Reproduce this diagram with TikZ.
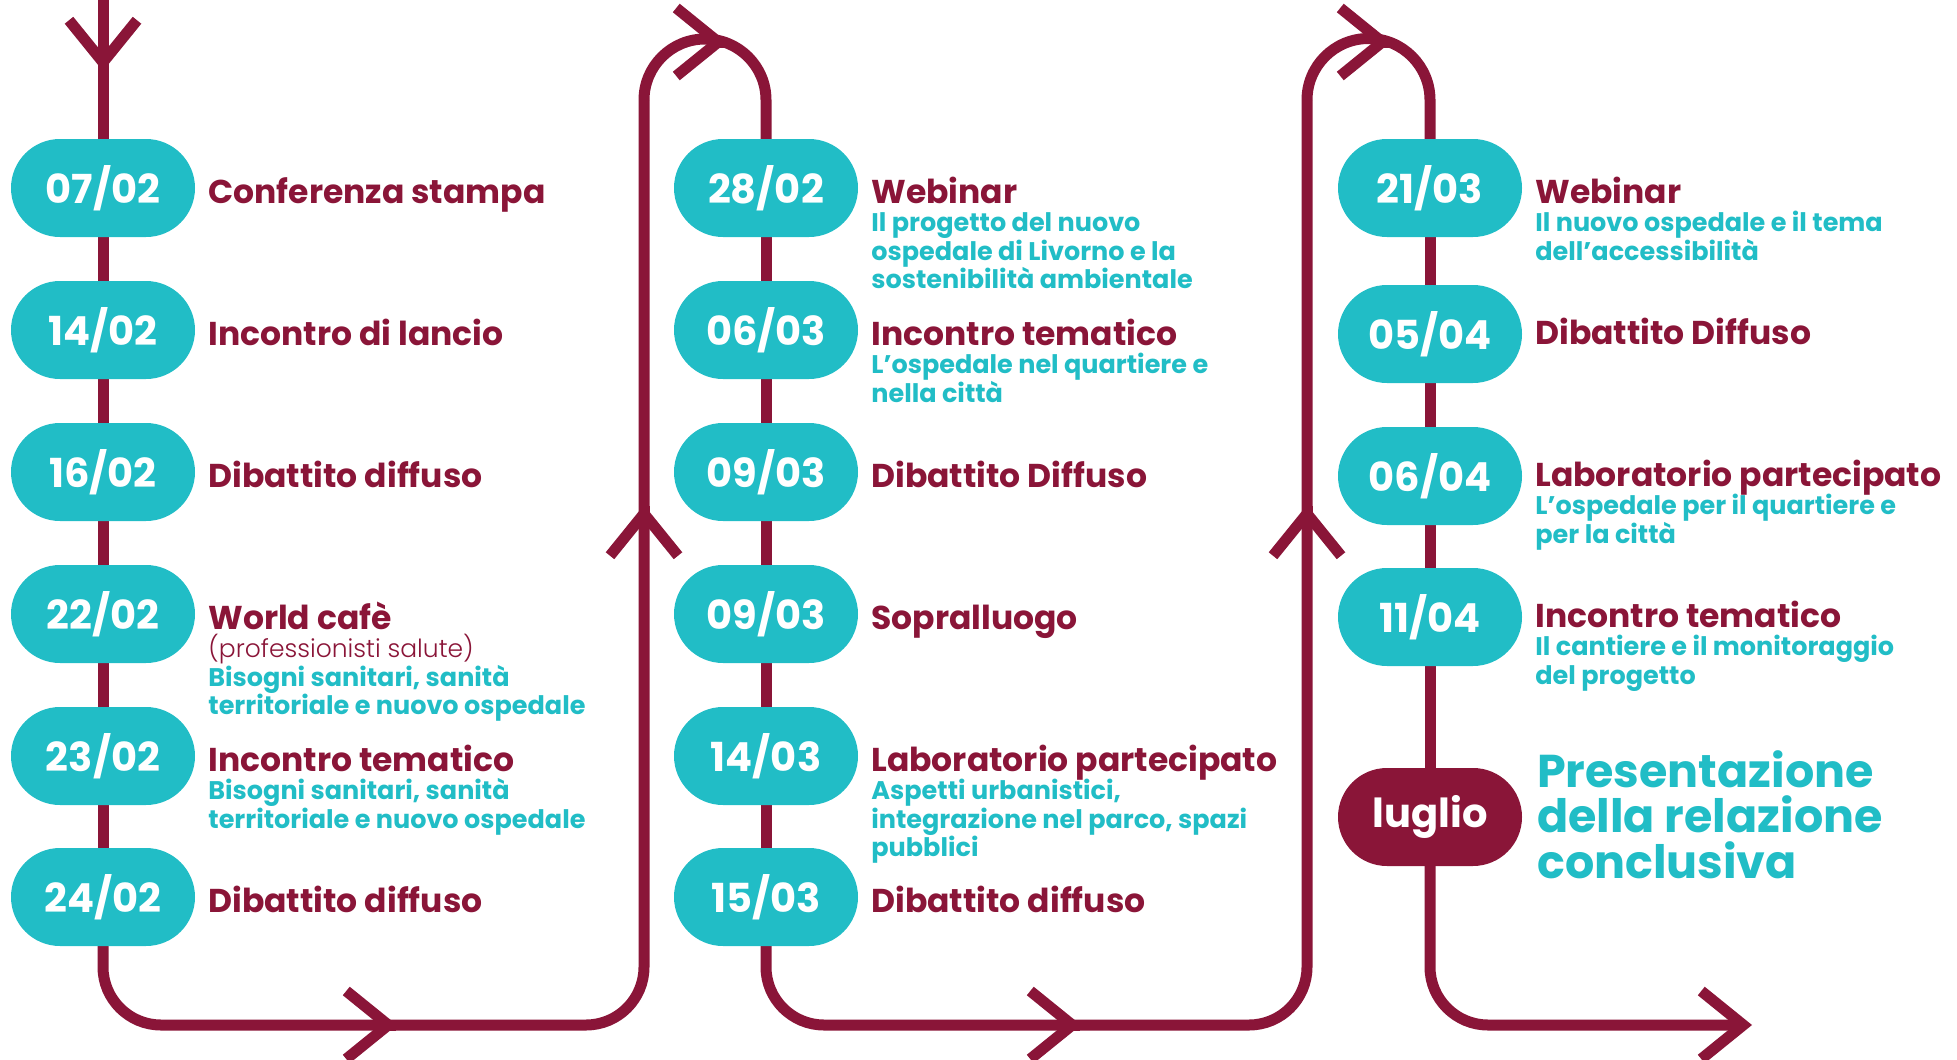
\documentclass[tikz,border=0pt]{standalone}
\usepackage{fontspec}
\setmainfont{Poppins}
\newfontfamily\poplight{Poppins Light}
\usepackage{tikz}
\usetikzlibrary{arrows.meta, positioning, backgrounds}
\definecolor{wine}{HTML}{8A1538}
\definecolor{aqua}{HTML}{21BDC6}
\newcommand{\datefont}{\fontsize{40}{42}\selectfont\bfseries}
\newcommand{\ttlfont}{\fontsize{33}{36}\selectfont\bfseries}
\newcommand{\notefont}{\fontsize{25}{28.5}\selectfont\poplight}
\newcommand{\subfont}{\fontsize{25.5}{28.5}\selectfont\bfseries}
\newcommand{\bigfont}{\fontsize{46}{45.5}\selectfont\bfseries}

\begin{document}
\begin{tikzpicture}[x=1pt, y=-1pt,
  flow/.style={draw=wine, line width=11pt},
  barb/.style={flow, -{Straight Barb[length=42pt, width=68pt]}},
  datepill/.style={fill=aqua, text=white, rounded corners=49pt, minimum width=184pt, minimum height=98pt, inner sep=0pt, font=\datefont},
  lastpill/.style={datepill, fill=wine},
  ttl/.style={text=wine, font=\ttlfont, inner sep=0pt},
  note/.style={text=wine, font=\notefont, inner sep=0pt, anchor=base west},
  sub/.style={text=aqua, font=\subfont, inner sep=0pt, align=left, anchor=base west},
  finale/.style={text=aqua, font=\bigfont, inner sep=0pt, align=left, anchor=base west}]
\useasboundingbox (0,0) rectangle (1957,1060);

% february
\node[datepill] (d1) at (103,188) {07/02};
\node[datepill] (d2) at (103,330) {14/02};
\node[datepill] (d3) at (103,472) {16/02};
\node[datepill] (d4) at (103,614) {22/02};
\node[datepill] (d5) at (103,756) {23/02};
\node[datepill] (d6) at (103,897) {24/02};
\node[ttl, base right=13pt of d1] (t1) {Conferenza stampa};
\node[ttl, base right=13pt of d2] (t2) {Incontro di lancio};
\node[ttl, base right=13pt of d3] (t3) {Dibattito diffuso};
\node[ttl, base right=13pt of d4] (t4) {World cafè};
\node[note] (n4) at ([yshift=-28.5pt]t4.base west) {(professionisti salute)};
\node[sub] (s4) at ([yshift=-85.5pt]t4.base west) {Bisogni sanitari, sanità\\territoriale e nuovo ospedale};
\node[ttl, base right=13pt of d5] (t5) {Incontro tematico};
\node[sub] (s5) at ([yshift=-57pt]t5.base west) {Bisogni sanitari, sanità\\territoriale e nuovo ospedale};
\node[ttl, base right=13pt of d6] (t6) {Dibattito diffuso};

% march
\node[datepill] (e1) at (766,188) {28/02};
\node[datepill] (e2) at (766,330) {06/03};
\node[datepill] (e3) at (766,472) {09/03};
\node[datepill] (e4) at (766,614) {09/03};
\node[datepill] (e5) at (766,756) {14/03};
\node[datepill] (e6) at (766,897) {15/03};
\node[ttl, base right=13pt of e1] (u1) {Webinar};
\node[sub] (v1) at ([yshift=-85.5pt]u1.base west) {Il progetto del nuovo\\ospedale di Livorno e la\\sostenibilità ambientale};
\node[ttl, base right=13pt of e2] (u2) {Incontro tematico};
\node[sub] (v2) at ([yshift=-57pt]u2.base west) {L’ospedale nel quartiere e\\nella città};
\node[ttl, base right=13pt of e3] (u3) {Dibattito Diffuso};
\node[ttl, base right=13pt of e4] (u4) {Sopralluogo};
\node[ttl, base right=13pt of e5] (u5) {Laboratorio partecipato};
\node[sub] (v5) at ([yshift=-85.5pt]u5.base west) {Aspetti urbanistici,\\integrazione nel parco, spazi\\pubblici};
\node[ttl, base right=13pt of e6] (u6) {Dibattito diffuso};

% april and july
\node[datepill] (f1) at (1430,188) {21/03};
\node[datepill] (f2) at (1430,334) {05/04};
\node[datepill] (f3) at (1430,476) {06/04};
\node[datepill] (f4) at (1430,617) {11/04};
\node[lastpill] (f5) at (1430,817) {luglio};
\node[ttl, base right=13pt of f1] (w1) {Webinar};
\node[sub] (x1) at ([yshift=-57pt]w1.base west) {Il nuovo ospedale e il tema\\dell’accessibilità};
\node[ttl, base right=13pt of f2, yshift=5pt] (w2) {Dibattito Diffuso};
\node[ttl, base right=13pt of f3, yshift=5pt] (w3) {Laboratorio partecipato};
\node[sub] (x3) at ([yshift=-57pt]w3.base west) {L’ospedale per il quartiere e\\per la città};
\node[ttl, base right=13pt of f4, yshift=5pt] (w4) {Incontro tematico};
\node[sub] (x4) at ([yshift=-57pt]w4.base west) {Il cantiere e il monitoraggio\\del progetto};
\node[finale] (w5) at (1537,878) {Presentazione\\della relazione\\conclusiva};

\begin{scope}[on background layer]
  \coordinate (in) at (103,0);
  \coordinate (b1) at (103,1025);
  \coordinate (b2) at (644,1025);
  \coordinate (r1) at (644,100);
  \coordinate (b3) at (766,1025);
  \coordinate (b4) at (1307,1025);
  \coordinate (r2) at (1307,100);
  \coordinate (b5) at (1430,1025);
  \coordinate (out) at (1752,1025);
  \coordinate (a0) at (103,71);
  \coordinate (a1) at (397,1025);
  \coordinate (a2) at (644,505);
  \coordinate (a3) at (727,42);
  \coordinate (a4) at (1081,1025);
  \coordinate (a5) at (1307,505);
  \coordinate (a6) at (1391,42);

  \draw[flow] (in) -- (d1) -- (d2) -- (d3) -- (d4) -- (d5) -- (d6);
  \draw[flow, rounded corners=58pt] (d6) -- (b1) -- (b2) -- (r1);
  \draw[flow] (r1) arc[start angle=180, end angle=0, radius=61pt] -- (e1);
  \draw[flow] (e1) -- (e2) -- (e3) -- (e4) -- (e5) -- (e6);
  \draw[flow, rounded corners=58pt] (e6) -- (b3) -- (b4) -- (r2);
  \draw[flow] (r2) arc[start angle=180, end angle=0, radius=61.5pt] -- (f1);
  \draw[flow] (f1) -- (f2) -- (f3) -- (f4) -- (f5);
  \draw[barb, rounded corners=58pt] (f5) -- (b5) -- (out);

  \draw[barb] ([yshift=1pt]a0) -- (a0);
  \draw[barb] ([xshift=-1pt]a1) -- (a1);
  \draw[barb] ([yshift=-1pt]a2) -- (a2);
  \draw[barb] ([xshift=-1pt]a3) -- (a3);
  \draw[barb] ([xshift=-1pt]a4) -- (a4);
  \draw[barb] ([yshift=-1pt]a5) -- (a5);
  \draw[barb] ([xshift=-1pt]a6) -- (a6);
\end{scope}
\end{tikzpicture}
\end{document}
